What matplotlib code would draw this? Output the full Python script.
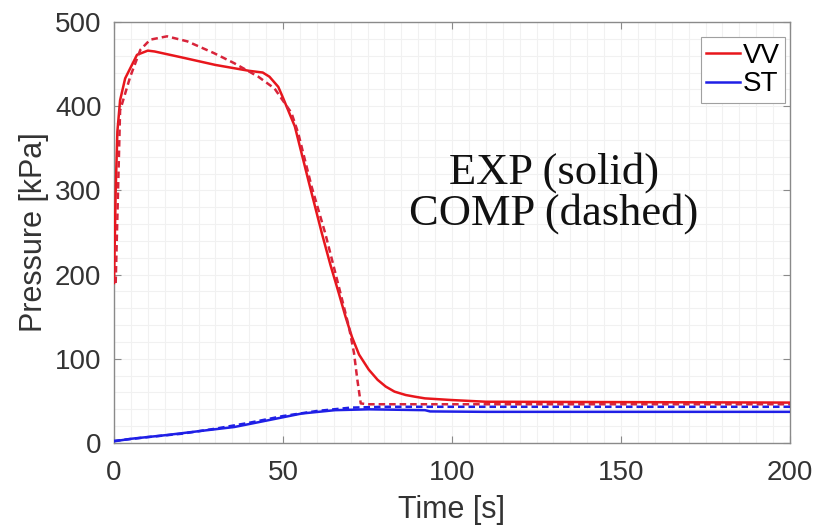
import matplotlib
matplotlib.use("Agg")
import matplotlib.pyplot as plt
from matplotlib.ticker import MultipleLocator

# Pressure histories: VV (vacuum vessel) and ST (suppression tank)
# Experimental (solid) curves
t_vv_exp = [0, 0.5, 1, 1.8, 3.3, 6.8, 10, 12, 20, 30, 40, 44, 46, 48.6, 50,
            53.5, 57.5, 61.5, 64, 66.5, 68.5, 70.4, 72.5, 75.4, 78, 80.4, 83,
            86.3, 89, 92, 100, 110, 200]
p_vv_exp = [190, 300, 370, 407, 433, 461, 466, 465, 458, 449, 442, 440, 435,
            423, 410, 376, 312, 249, 212, 178, 150, 126, 105, 87, 75, 67, 61,
            57, 55, 53, 51, 49, 48]

t_st_exp = [0, 5, 15.7, 25, 35.6, 45.6, 55.5, 65.4, 75.4, 92, 93.5, 110, 200]
p_st_exp = [2, 5, 9.5, 14, 19, 27, 35, 39, 40, 39, 37.5, 37, 37]

# Computed (dashed) curves
t_vv_comp = [0.5, 1.8, 3.3, 4.8, 7.8, 10.7, 15.7, 21.7, 29.6, 35.6, 42.7, 47.5,
             52.5, 54.5, 58.5, 62.5, 66.5, 69.5, 71, 72, 73, 75, 200]
p_vv_comp = [190, 395, 415, 435, 467, 479, 483, 477, 463, 451, 435, 421,
             392, 368, 304, 249, 186, 138, 107, 75, 47, 46, 46]

t_st_comp = [0, 10, 20, 30, 40, 50, 60, 70, 80, 200]
p_st_comp = [2.5, 7, 11, 17, 24, 32, 38, 42, 43, 43]

x_ticks = [0, 50, 100, 150, 200]
y_ticks = [0, 100, 200, 300, 400, 500]

red = "#e8161c"
red_dash = "#d8243a"
blue = "#1f1fe6"
axis_gray = "#8a8a8a"
text_gray = "#333333"

plt.rcParams["font.family"] = ["Liberation Sans", "DejaVu Sans"]

W, H = 839, 529
fig = plt.figure(figsize=(W / 100, H / 100), dpi=100)
ax = fig.add_axes([114 / W, 1 - 443 / H, (790 - 114) / W, (443 - 22) / H])

lw = 1.8
dash = (2.6, 1.6)
ax.plot(t_vv_exp, p_vv_exp, color=red, lw=lw, label="VV", zorder=3)
ax.plot(t_st_exp, p_st_exp, color=blue, lw=lw, label="ST", zorder=3)
ax.plot(t_vv_comp, p_vv_comp, color=red_dash, lw=lw, ls=(0, dash), zorder=3)
ax.plot(t_st_comp, p_st_comp, color=blue, lw=lw, ls=(0, dash), zorder=3)

ax.set_xlim(0, 200)
ax.set_ylim(0, 500)
ax.set_xticks(x_ticks)
ax.set_yticks(y_ticks)
ax.xaxis.set_minor_locator(MultipleLocator(5))
ax.yaxis.set_minor_locator(MultipleLocator(20))
ax.grid(which="both", color="#f1f1f1", lw=0.8, zorder=0)
ax.set_axisbelow(True)

for s in ax.spines.values():
    s.set_color(axis_gray)
    s.set_linewidth(1.0)
ax.tick_params(which="major", direction="in", length=5, width=0.8,
               color=axis_gray, top=True, right=True,
               labelsize=20, labelcolor=text_gray, pad=9)
ax.tick_params(axis="x", which="major", pad=12)
ax.tick_params(which="minor", length=0, top=True, right=True)

ax.set_xlabel("Time [s]", fontsize=22, color=text_gray, labelpad=7)
ax.set_ylabel("Pressure [kPa]", fontsize=22, color=text_gray, labelpad=4)

ax.text((554 - 114) / (790 - 114), (443 - 193) / 421,
        "EXP (solid)\nCOMP (dashed)", transform=ax.transAxes,
        ha="center", va="center", fontsize=32, family="Liberation Serif",
        color="#111111", linespacing=0.98)

leg = ax.legend(loc="upper right", fontsize=20, handlelength=1.2,
                handletextpad=0.1, borderpad=0.2, labelspacing=0.1,
                fancybox=False, framealpha=1, edgecolor="#a0a0a0",
                bbox_to_anchor=(785 / W, 1 - 37 / H),
                bbox_transform=fig.transFigure, borderaxespad=0)
leg.get_frame().set_linewidth(0.8)

fig.savefig("out.png", dpi=100)
